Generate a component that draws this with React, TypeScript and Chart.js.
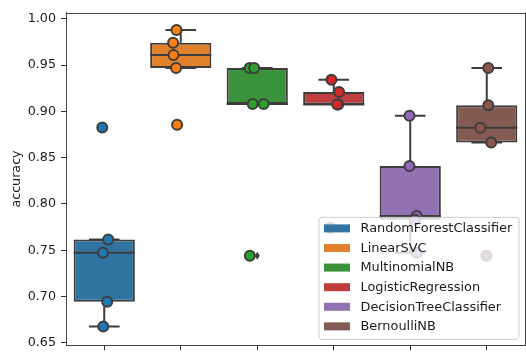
import React, { useEffect, useRef } from 'react';
import { Chart, registerables } from 'chart.js';

Chart.register(...registerables);

const CATEGORIES = [
  'RandomForestClassifier',
  'LinearSVC',
  'MultinomialNB',
  'LogisticRegression',
  'DecisionTreeClassifier',
  'BernoulliNB',
];
const BOX_COLORS = ['#3274a1', '#e1812c', '#3a923a', '#c03d3e', '#9372b2', '#845b53'];
const POINT_COLORS = ['#1f77b4', '#ff7f0e', '#2ca02c', '#d62728', '#9467bd', '#8c564b'];

// accuracy per fold for each model
const RF_ACC = [0.7615, 0.7472, 0.6944, 0.6677, 0.8826];
const SVC_ACC = [0.9878, 0.974, 0.9607, 0.9469, 0.8854];
const MNB_ACC = [0.9469, 0.9469, 0.9079, 0.9079, 0.744];
const LR_ACC = [0.934, 0.9208, 0.9073, 0.9073, 0.7743];
const DT_ACC = [0.8951, 0.841, 0.787, 0.7829, 0.7472];
const BNB_ACC = [0.9469, 0.9066, 0.8823, 0.8663, 0.744];

// horizontal strip jitter (category units)
const RF_JIT = [0.052, -0.017, 0.039, -0.013, -0.026];
const SVC_JIT = [-0.056, -0.1, -0.095, -0.061, -0.048];
const MNB_JIT = [-0.1, -0.04, -0.06, 0.084, -0.097];
const LR_JIT = [-0.03, 0.07, 0.058, 0.045, -0.045];
const DT_JIT = [-0.01, -0.01, 0.084, 0.06, 0.084];
const BNB_JIT = [0.02, 0.02, -0.084, 0.058, -0.006];

const ACC = [RF_ACC, SVC_ACC, MNB_ACC, LR_ACC, DT_ACC, BNB_ACC];
const JIT = [RF_JIT, SVC_JIT, MNB_JIT, LR_JIT, DT_JIT, BNB_JIT];

const Y_TICKS = [0.65, 0.7, 0.75, 0.8, 0.85, 0.9, 0.95, 1.0];
const Y_MIN = 0.6472;
const Y_MAX = 1.0066;

const FONT = 'DejaVu Sans';
const EDGE = '#3d3d3d';

function quantile(s: number[], p: number) {
  const pos = (s.length - 1) * p;
  const lo = Math.floor(pos);
  const hi = Math.ceil(pos);
  return s[lo] + (s[hi] - s[lo]) * (pos - lo);
}

function boxStats(vals: number[]) {
  const s = [...vals].sort((a, b) => a - b);
  const q1 = quantile(s, 0.25);
  const med = quantile(s, 0.5);
  const q3 = quantile(s, 0.75);
  const iqr = q3 - q1;
  const inside = s.filter((v) => v >= q1 - 1.5 * iqr && v <= q3 + 1.5 * iqr);
  const lo = Math.min(...inside);
  const hi = Math.max(...inside);
  const fliers = s.filter((v) => v < lo || v > hi);
  return { q1, med, q3, lo, hi, fliers };
}

const STATS = ACC.map(boxStats);

const extrasPlugin = {
  id: 'boxExtras',
  afterDatasetDraw(chart: any, args: any) {
    if (args.index !== 0) return;
    const { ctx, scales } = chart;
    const x = scales.x;
    const y = scales.y;
    const unit = x.getPixelForValue(1) - x.getPixelForValue(0);
    const boxW = unit * 0.8;
    ctx.save();
    ctx.strokeStyle = EDGE;
    ctx.lineWidth = 2;
    ctx.lineCap = 'butt';
    STATS.forEach((st, i) => {
      const cx = x.getPixelForValue(i);
      const capHalf = boxW * 0.25;
      ctx.beginPath();
      ctx.moveTo(cx, y.getPixelForValue(st.q3));
      ctx.lineTo(cx, y.getPixelForValue(st.hi));
      ctx.moveTo(cx, y.getPixelForValue(st.q1));
      ctx.lineTo(cx, y.getPixelForValue(st.lo));
      ctx.moveTo(cx - capHalf, y.getPixelForValue(st.hi));
      ctx.lineTo(cx + capHalf, y.getPixelForValue(st.hi));
      ctx.moveTo(cx - capHalf, y.getPixelForValue(st.lo));
      ctx.lineTo(cx + capHalf, y.getPixelForValue(st.lo));
      ctx.moveTo(cx - boxW / 2, y.getPixelForValue(st.med));
      ctx.lineTo(cx + boxW / 2, y.getPixelForValue(st.med));
      ctx.stroke();
      ctx.fillStyle = EDGE;
      st.fliers.forEach((f) => {
        const fy = y.getPixelForValue(f);
        ctx.beginPath();
        ctx.moveTo(cx, fy - 4);
        ctx.lineTo(cx + 2.5, fy);
        ctx.lineTo(cx, fy + 4);
        ctx.lineTo(cx - 2.5, fy);
        ctx.closePath();
        ctx.fill();
      });
    });
    ctx.restore();
  },
  afterDraw(chart: any) {
    const { ctx, chartArea: ca } = chart;
    ctx.save();
    ctx.strokeStyle = '#444';
    ctx.lineWidth = 1;
    ctx.beginPath();
    ctx.moveTo(ca.left, Math.round(ca.top) + 0.5);
    ctx.lineTo(ca.right, Math.round(ca.top) + 0.5);
    ctx.moveTo(Math.round(ca.right) + 0.5, ca.top);
    ctx.lineTo(Math.round(ca.right) + 0.5, ca.bottom);
    ctx.stroke();

    const lw = 200;
    const lh = 122;
    const lx = ca.right - 6 - lw;
    const ly = ca.bottom - 6 - lh;
    const r = 3;
    ctx.beginPath();
    ctx.moveTo(lx + r, ly);
    ctx.lineTo(lx + lw - r, ly);
    ctx.arcTo(lx + lw, ly, lx + lw, ly + r, r);
    ctx.lineTo(lx + lw, ly + lh - r);
    ctx.arcTo(lx + lw, ly + lh, lx + lw - r, ly + lh, r);
    ctx.lineTo(lx + r, ly + lh);
    ctx.arcTo(lx, ly + lh, lx, ly + lh - r, r);
    ctx.lineTo(lx, ly + r);
    ctx.arcTo(lx, ly, lx + r, ly, r);
    ctx.closePath();
    ctx.fillStyle = 'rgba(255,255,255,0.8)';
    ctx.fill();
    ctx.strokeStyle = '#cccccc';
    ctx.lineWidth = 1;
    ctx.stroke();

    ctx.font = `12.9px "${FONT}"`;
    ctx.textBaseline = 'middle';
    ctx.textAlign = 'left';
    CATEGORIES.forEach((name, i) => {
      const ry = ly + 11 + i * 19.6;
      ctx.fillStyle = BOX_COLORS[i];
      ctx.fillRect(lx + 5, ry - 4, 26, 8);
      ctx.fillStyle = '#1a1a1a';
      ctx.fillText(name, lx + 41.5, ry + 0.5);
    });
    ctx.restore();
  },
};

export default function App() {
  const ref = useRef<HTMLCanvasElement | null>(null);

  useEffect(() => {
    if (!ref.current) return;
    const boxData = STATS.map((st, i) => ({ x: i, y: [st.q1, st.q3] }));
    const pts: { x: number; y: number }[] = [];
    const ptColors: string[] = [];
    ACC.forEach((vals, i) => {
      vals.forEach((v, j) => {
        pts.push({ x: i + JIT[i][j], y: v });
        ptColors.push(POINT_COLORS[i]);
      });
    });

    const chart = new Chart(ref.current, {
      type: 'scatter',
      data: {
        datasets: [
          {
            type: 'bar',
            label: 'boxes',
            data: boxData as any,
            backgroundColor: BOX_COLORS,
            borderColor: EDGE,
            borderWidth: 2,
            borderSkipped: false,
            barPercentage: 0.8,
            categoryPercentage: 1,
            order: 2,
          } as any,
          {
            type: 'scatter',
            label: 'points',
            data: pts,
            pointRadius: 5,
            pointBorderWidth: 2,
            pointBorderColor: EDGE,
            pointBackgroundColor: ptColors,
            clip: false,
            order: 1,
          } as any,
        ],
      },
      options: {
        responsive: false,
        animation: false,
        events: [],
        layout: { padding: { left: 0, top: 7, right: 4, bottom: 0 } },
        plugins: { legend: { display: false }, tooltip: { enabled: false } },
        scales: {
          x: {
            type: 'linear',
            min: -0.5,
            max: 5.5,
            offset: false,
            afterBuildTicks: (s: any) => {
              s.ticks = CATEGORIES.map((_, i) => ({ value: i }));
            },
            afterFit: (s: any) => {
              s.height = 6;
            },
            ticks: { display: false },
            grid: {
              display: true,
              offset: false,
              drawOnChartArea: false,
              drawTicks: true,
              tickLength: 5,
              tickColor: '#333',
              tickWidth: 1,
            },
            border: { display: true, color: '#444', width: 1 },
          },
          y: {
            type: 'linear',
            min: Y_MIN,
            max: Y_MAX,
            afterBuildTicks: (s: any) => {
              s.ticks = Y_TICKS.map((v) => ({ value: v }));
            },
            afterFit: (s: any) => {
              s.width = 66;
            },
            ticks: {
              padding: 5,
              color: '#1a1a1a',
              font: { family: FONT, size: 12.7 },
              callback: (v: any) => Number(v).toFixed(2),
            },
            grid: {
              display: true,
              offset: false,
              drawOnChartArea: false,
              drawTicks: true,
              tickLength: 5,
              tickColor: '#333',
              tickWidth: 1,
            },
            border: { display: true, color: '#444', width: 1 },
            title: {
              display: true,
              text: 'accuracy',
              color: '#1a1a1a',
              font: { family: FONT, size: 12.7 },
              padding: { top: 8.7, bottom: 0 },
            },
          },
        },
      },
      plugins: [extrasPlugin],
    });
    return () => chart.destroy();
  }, []);

  return (
    <div
      style={{
        position: 'fixed',
        left: 0,
        top: 0,
        width: 526,
        height: 358,
        overflow: 'hidden',
        background: '#fff',
      }}
    >
      <canvas ref={ref} width={532} height={358} style={{ display: 'block' }} />
    </div>
  );
}
